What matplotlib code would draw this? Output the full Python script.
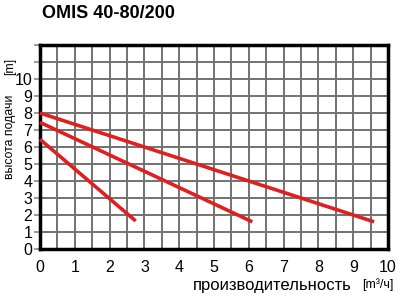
import matplotlib
matplotlib.use("Agg")
import matplotlib.pyplot as plt
import numpy as np

plt.rcParams['font.family'] = ['Liberation Sans', 'DejaVu Sans']

title = "OMIS 40-80/200"
curve1_q = [0.0, 2.75]
curve1_h = [6.45, 1.65]
curve2_q = [0.0, 6.1]
curve2_h = [7.45, 1.6]
curve3_q = [0.0, 9.6]
curve3_h = [8.0, 1.6]
x_ticks = list(range(0, 11))
y_ticks = list(range(0, 11))

fig = plt.figure(figsize=(4, 3), dpi=100)
ax = fig.add_axes([0.1, 0.17, 0.87, 0.68])
ax.set_xlim(0, 10)
ax.set_ylim(0, 12)

ax.set_xticks(np.arange(0, 10.01, 0.5), minor=True)
ax.set_yticks(np.arange(0, 12.01, 1), minor=True)
ax.set_xticks(x_ticks)
ax.set_yticks(y_ticks)
ax.set_xticklabels([str(v) for v in x_ticks], fontsize=11.5)
ax.set_yticklabels([str(v) for v in y_ticks], fontsize=11.5)
ax.grid(True, which='both', color='#727272', lw=1.4)
ax.tick_params(axis='x', which='both', length=0, pad=8)
ax.tick_params(axis='y', which='both', length=4, width=1.2, color='#8a8a8a', pad=1.5)
ax.set_axisbelow(True)
for s in ax.spines.values():
    s.set_linewidth(2.5)
    s.set_color('black')

red = '#e0201f'
for q, h in [(curve1_q, curve1_h), (curve2_q, curve2_h), (curve3_q, curve3_h)]:
    ax.plot(q, h, color=red, lw=2.6, solid_capstyle='butt', clip_on=False, zorder=3)

fig.text(0.27, 0.955, title, ha='center', va='center', fontsize=13, fontweight='bold')
fig.text(0.68, 0.048, "производительность", ha='center', va='center', fontsize=12)
fig.text(0.945, 0.052, "[m³/ч]", ha='center', va='center', fontsize=9)
fig.text(0.025, 0.545, "высота подачи", ha='center', va='center', rotation=90, fontsize=8.8)
fig.text(0.025, 0.777, "[m]", ha='center', va='center', rotation=90, fontsize=8.8)

fig.savefig("out.png", dpi=100)
